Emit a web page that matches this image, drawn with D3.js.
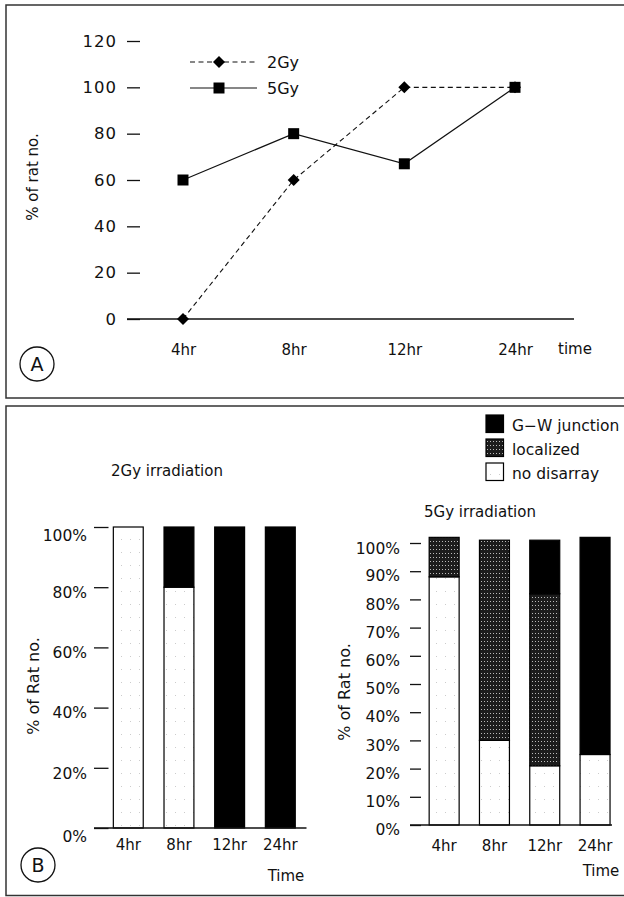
<!DOCTYPE html>
<html><head><meta charset="utf-8">
<script src="https://cdn.jsdelivr.net/npm/d3@7"></script>
<style>
html,body{margin:0;padding:0;background:#fff;}
svg{display:block;font-family:"DejaVu Sans",sans-serif;}
</style></head>
<body>
<svg id="chart" width="624" height="897"></svg>
<script>
// ---- Data ----
const timesA = ["4hr", "8hr", "12hr", "24hr"];
const gy2Values = [0, 60, 100, 100];
const gy5Values = [60, 80, 67, 100];
const yTicksA = [0, 20, 40, 60, 80, 100, 120];

const timesB = ["4hr", "8hr", "12hr", "24hr"];
const categoriesB = ["no disarray", "localized", "G\u2212W junction"];
const b2NoDisarray = [100, 80, 0, 0];
const b2Localized  = [0, 0, 0, 0];
const b2GW         = [0, 20, 100, 100];
const b5NoDisarray = [88, 30, 21, 25];
const b5Localized  = [14, 71, 61, 0];
const b5GW         = [0, 0, 19, 77];
const yTicksB2 = [0, 20, 40, 60, 80, 100];
const yTicksB5 = [0, 10, 20, 30, 40, 50, 60, 70, 80, 90, 100];

const svg = d3.select("#chart");
const ink = "#111";

// patterns
const defs = svg.append("defs");
const pat = defs.append("pattern").attr("id", "dots").attr("patternUnits", "userSpaceOnUse")
  .attr("width", 3).attr("height", 4);
pat.append("rect").attr("width", 3).attr("height", 4).attr("fill", "#1c1c1c");
pat.append("rect").attr("x", 1).attr("y", 1).attr("width", 1).attr("height", 1).attr("fill", "#bbb");
const pat2 = defs.append("pattern").attr("id", "speck").attr("patternUnits", "userSpaceOnUse")
  .attr("width", 9).attr("height", 13);
pat2.append("rect").attr("width", 9).attr("height", 13).attr("fill", "#fff");
pat2.append("rect").attr("x", 4).attr("y", 6).attr("width", 1).attr("height", 1).attr("fill", "#ccc");

const fillFor = {"no disarray": "url(#speck)", "localized": "url(#dots)", "G\u2212W junction": "#000"};

// ---- Panel frames ----
svg.append("rect").attr("x", 6).attr("y", 5).attr("width", 640).attr("height", 393)
  .attr("fill", "none").attr("stroke", "#333").attr("stroke-width", 1.5);
svg.append("rect").attr("x", 6).attr("y", 406).attr("width", 640).attr("height", 489.5)
  .attr("fill", "none").attr("stroke", "#333").attr("stroke-width", 1.5);

function circleLabel(cx, cy, t) {
  svg.append("circle").attr("cx", cx).attr("cy", cy).attr("r", 17)
    .attr("fill", "none").attr("stroke", ink).attr("stroke-width", 1.3);
  svg.append("text").attr("x", cx).attr("y", cy + 7).attr("text-anchor", "middle")
    .attr("font-size", 19).attr("fill", ink).text(t);
}

// ---- Panel A ----
const xA = d3.scalePoint().domain(timesA).range([183, 515]);
const yA = d3.scaleLinear().domain([0, 120]).range([319, 41]);

const axA = svg.append("g").attr("transform", "translate(140,0)")
  .call(d3.axisLeft(yA).tickValues(yTicksA).tickSize(13).tickPadding(10).tickFormat(d3.format("d")));
axA.select(".domain").remove();
axA.selectAll("line").attr("stroke", ink).attr("stroke-width", 1.3);
axA.selectAll("text").attr("font-size", 16.5).attr("letter-spacing", 1).attr("fill", ink).attr("font-family", "DejaVu Sans");

svg.append("line").attr("x1", 127).attr("x2", 574).attr("y1", yA(0)).attr("y2", yA(0))
  .attr("stroke", ink).attr("stroke-width", 1.4);

const axAx = svg.append("g").attr("transform", `translate(0,${yA(0)})`)
  .call(d3.axisBottom(xA).tickSize(0).tickPadding(25));
axAx.select(".domain").remove();
axAx.selectAll("text").attr("font-size", 15).attr("fill", ink).attr("font-family", "DejaVu Sans");
svg.append("text").attr("x", 575).attr("y", 354).attr("text-anchor", "middle")
  .attr("font-size", 15).attr("fill", ink).text("time");

svg.append("text").attr("transform", "translate(38,177) rotate(-90)").attr("text-anchor", "middle")
  .attr("font-size", 15).attr("fill", ink).text("% of rat no.");

const lineA = d3.line().x((d, i) => xA(timesA[i])).y(d => yA(d));
svg.append("path").datum(gy2Values).attr("d", lineA).attr("fill", "none")
  .attr("stroke", ink).attr("stroke-width", 1.1).attr("stroke-dasharray", "5,3.5");
svg.append("path").datum(gy5Values).attr("d", lineA).attr("fill", "none")
  .attr("stroke", ink).attr("stroke-width", 1.2);

const diamond = d3.symbol().type(d3.symbolSquare).size(72);
const square = d3.symbol().type(d3.symbolSquare).size(121);
svg.selectAll(".d2").data(gy2Values).join("path")
  .attr("transform", (d, i) => `translate(${xA(timesA[i])},${yA(d)}) rotate(45)`)
  .attr("d", diamond).attr("fill", "#000");
svg.selectAll(".s5").data(gy5Values).join("path")
  .attr("transform", (d, i) => `translate(${xA(timesA[i])},${yA(d)})`)
  .attr("d", square).attr("fill", "#000");

// legend A
const legA = svg.append("g");
legA.append("line").attr("x1", 190).attr("x2", 257).attr("y1", 62).attr("y2", 62)
  .attr("stroke", ink).attr("stroke-width", 1.1).attr("stroke-dasharray", "5,3.5");
legA.append("path").attr("transform", "translate(219,62) rotate(45)").attr("d", diamond).attr("fill", "#000");
legA.append("text").attr("x", 267).attr("y", 68).attr("font-size", 16).attr("fill", ink).text("2Gy");
legA.append("line").attr("x1", 190).attr("x2", 257).attr("y1", 88).attr("y2", 88)
  .attr("stroke", ink).attr("stroke-width", 1.2);
legA.append("path").attr("transform", "translate(219,88)").attr("d", square).attr("fill", "#000");
legA.append("text").attr("x", 267).attr("y", 94).attr("font-size", 16).attr("fill", ink).text("5Gy");

circleLabel(37, 364, "A");

// ---- Panel B ----
function stackChart(opts) {
  const {noD, loc, gw, ticks, yRange, xRange, padIn, tickX, baseX, labPad, labDy, topDy, zeroDy,
         title, titleX, titleY, ylabX, ylabY, timeX, timeY, pad} = opts;
  const rows = timesB.map((t, i) => ({time: t, "no disarray": noD[i], "localized": loc[i], "G\u2212W junction": gw[i]}));
  const x = d3.scaleBand().domain(timesB).range(xRange).paddingInner(padIn).paddingOuter(0.2);
  const y = d3.scaleLinear().domain([0, 100]).range(yRange);
  const series = d3.stack().keys(categoriesB)(rows);
  const g = svg.append("g");
  series.forEach(s => {
    g.selectAll(null).data(s.filter(d => d[1] - d[0] > 0)).join("rect")
      .attr("x", d => x(d.data.time)).attr("width", x.bandwidth())
      .attr("y", d => y(d[1])).attr("height", d => y(d[0]) - y(d[1]))
      .attr("fill", fillFor[s.key]).attr("stroke", "#000").attr("stroke-width", 1.2);
  });
  const ax = svg.append("g").attr("transform", `translate(${tickX},0)`)
    .call(d3.axisLeft(y).tickValues(ticks).tickSize(tickX - baseX[0]).tickPadding(labPad).tickFormat(d => d + "%"));
  ax.select(".domain").remove();
  ax.selectAll("line").attr("stroke", ink).attr("stroke-width", 1.3);
  ax.selectAll("text").attr("font-size", 15.5).attr("fill", ink).attr("font-family", "DejaVu Sans")
    .attr("dy", d => d === 0 ? zeroDy : (d === 100 ? topDy : labDy));
  svg.append("line").attr("x1", baseX[0]).attr("x2", baseX[1]).attr("y1", y(0)).attr("y2", y(0))
    .attr("stroke", ink).attr("stroke-width", 1.4);
  const axx = svg.append("g").attr("transform", `translate(0,${y(0)})`)
    .call(d3.axisBottom(x).tickSize(0).tickPadding(pad));
  axx.select(".domain").remove();
  axx.selectAll("text").attr("font-size", 15).attr("fill", ink).attr("font-family", "DejaVu Sans");
  svg.append("text").attr("x", titleX).attr("y", titleY).attr("text-anchor", "middle")
    .attr("font-size", 15).attr("fill", ink).text(title);
  svg.append("text").attr("transform", `translate(${ylabX},${ylabY}) rotate(-90)`).attr("text-anchor", "middle")
    .attr("font-size", 16).attr("fill", ink).text("% of Rat no.");
  svg.append("text").attr("x", timeX).attr("y", timeY).attr("text-anchor", "middle")
    .attr("font-size", 15).attr("fill", ink).text("Time");
}

stackChart({noD: b2NoDisarray, loc: b2Localized, gw: b2GW, ticks: yTicksB2,
  yRange: [828, 527], xRange: [103.2, 305.4], padIn: 0.41, tickX: 108.5, baseX: [94, 306.5],
  labPad: 7, labDy: "0.66em", topDy: "0.84em", zeroDy: "0.84em",
  title: "2Gy irradiation", titleX: 167, titleY: 476, ylabX: 39, ylabY: 686,
  timeX: 286, timeY: 881, pad: 11});

stackChart({noD: b5NoDisarray, loc: b5Localized, gw: b5GW, ticks: yTicksB5,
  yRange: [825, 543], xRange: [419.1, 620.1], padIn: 0.404, tickX: 421, baseX: [410, 612],
  labPad: 10, labDy: "0.62em", topDy: "0.68em", zeroDy: "0.58em",
  title: "5Gy irradiation", titleX: 480, titleY: 517, ylabX: 350, ylabY: 692,
  timeX: 601, timeY: 876, pad: 15});

// legend B
const legB = svg.append("g");
categoriesB.slice().reverse().forEach((k, i) => {
  const yy = 415 + i * 24;
  legB.append("rect").attr("x", 486).attr("y", yy).attr("width", 17.5).attr("height", 17.5)
    .attr("fill", fillFor[k]).attr("stroke", "#000").attr("stroke-width", 1.2);
  legB.append("text").attr("x", 512).attr("y", yy + 15.5).attr("font-size", 15.5).attr("fill", ink).text(k);
});

circleLabel(38, 865, "B");
</script>
</body></html>
